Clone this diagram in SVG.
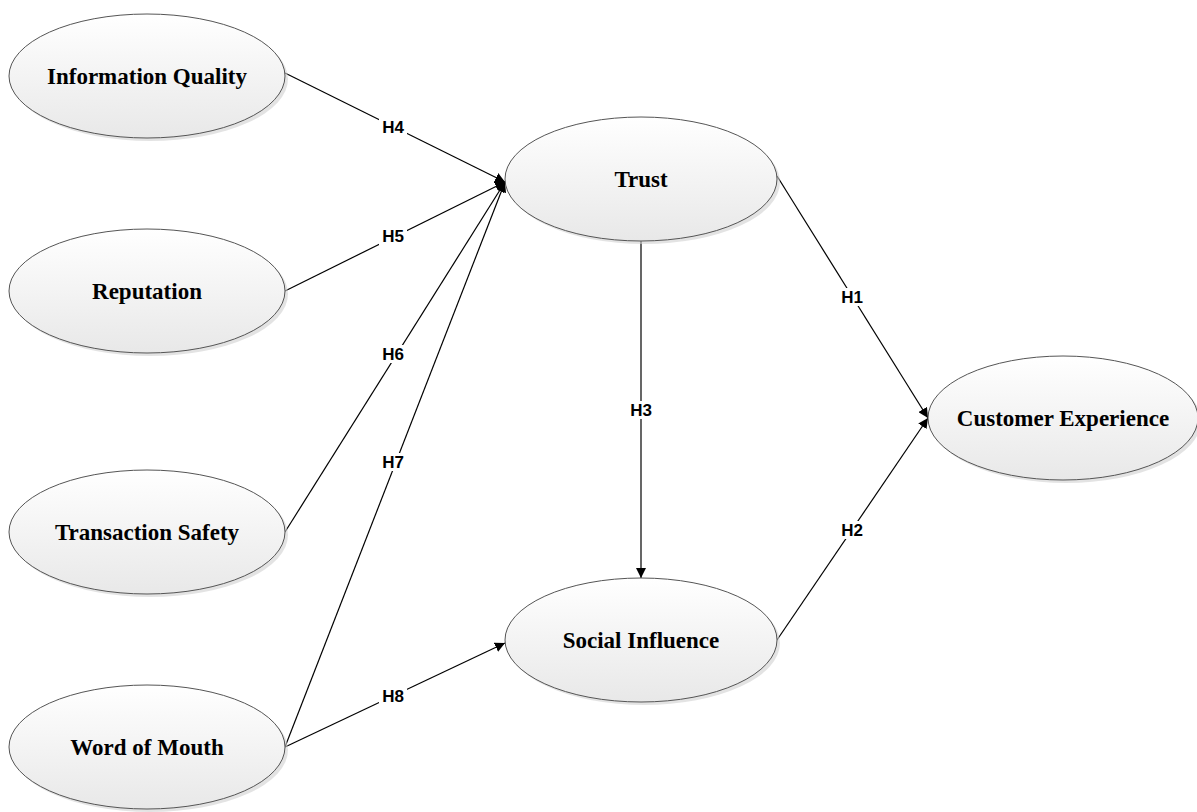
<svg xmlns="http://www.w3.org/2000/svg" width="1197" height="812" viewBox="0 0 1197 812">
<defs>
<linearGradient id="g" x1="0" y1="0" x2="0" y2="1">
<stop offset="0" stop-color="#ffffff"/>
<stop offset="1" stop-color="#e8e8e8"/>
</linearGradient>
<marker id="arr" viewBox="0 0 10 10" refX="10" refY="5" markerWidth="10" markerHeight="10" markerUnits="userSpaceOnUse" orient="auto">
<path d="M0,0 L10,5 L0,10 z" fill="#000"/>
</marker>
</defs>
<style>
.node ellipse.sh{fill:#d0d0d0;opacity:0.6}
.node ellipse.b{fill:url(#g);stroke:#555;stroke-width:1}
.node text{font-family:"Liberation Serif",serif;font-weight:bold;font-size:23px;fill:#000;text-anchor:middle;dominant-baseline:central}
.edge line{stroke:#000;stroke-width:1.2;marker-end:url(#arr)}
.lbl rect{fill:#fff}
.lbl text{font-family:"Liberation Sans",Arial,sans-serif;font-weight:bold;font-size:17px;fill:#000;text-anchor:middle;dominant-baseline:central}
</style>
<rect width="1197" height="812" fill="#fff"/>
<g id="connectors">
<g class="edge">
<line x1="285" y1="73" x2="505" y2="182"/>
<line x1="285" y1="291" x2="505" y2="182"/>
<line x1="285" y1="532" x2="505" y2="182"/>
<line x1="285" y1="747" x2="505" y2="182"/>
<line x1="285" y1="747" x2="505" y2="643"/>
<line x1="641" y1="241" x2="641" y2="578"/>
<line x1="777" y1="176" x2="928" y2="418"/>
<line x1="777" y1="640" x2="928" y2="418"/>
</g>
<g class="lbl">
<rect x="379" y="118" width="28" height="18"/><text x="393" y="127">H4</text>
<rect x="379" y="227" width="28" height="18"/><text x="393" y="236">H5</text>
<rect x="379" y="345" width="28" height="18"/><text x="393" y="354">H6</text>
<rect x="379" y="453" width="28" height="18"/><text x="393" y="462">H7</text>
<rect x="379" y="687" width="28" height="18"/><text x="393" y="696">H8</text>
<rect x="627" y="401" width="28" height="18"/><text x="641" y="410">H3</text>
<rect x="838" y="288" width="28" height="18"/><text x="852" y="297">H1</text>
<rect x="838" y="521" width="28" height="18"/><text x="852" y="530">H2</text>
</g>
</g>
<g id="n-iq" class="node"><ellipse class="sh" cx="150" cy="79" rx="138" ry="62"/><ellipse class="b" cx="147" cy="76" rx="138" ry="62"/><text x="147" y="76">Information Quality</text></g>
<g id="n-rep" class="node"><ellipse class="sh" cx="150" cy="294" rx="138" ry="62"/><ellipse class="b" cx="147" cy="291" rx="138" ry="62"/><text x="147" y="291">Reputation</text></g>
<g id="n-ts" class="node"><ellipse class="sh" cx="150" cy="535" rx="138" ry="62"/><ellipse class="b" cx="147" cy="532" rx="138" ry="62"/><text x="147" y="532">Transaction Safety</text></g>
<g id="n-wom" class="node"><ellipse class="sh" cx="150" cy="750" rx="138" ry="62"/><ellipse class="b" cx="147" cy="747" rx="138" ry="62"/><text x="147" y="747">Word of Mouth</text></g>
<g id="n-trust" class="node"><ellipse class="sh" cx="644" cy="182" rx="136" ry="62"/><ellipse class="b" cx="641" cy="179" rx="136" ry="62"/><text x="641" y="179">Trust</text></g>
<g id="n-si" class="node"><ellipse class="sh" cx="644" cy="643" rx="136" ry="62"/><ellipse class="b" cx="641" cy="640" rx="136" ry="62"/><text x="641" y="640">Social Influence</text></g>
<g id="n-ce" class="node"><ellipse class="sh" cx="1066" cy="421" rx="135" ry="62"/><ellipse class="b" cx="1063" cy="418" rx="135" ry="62"/><text x="1063" y="418">Customer Experience</text></g>
</svg>
